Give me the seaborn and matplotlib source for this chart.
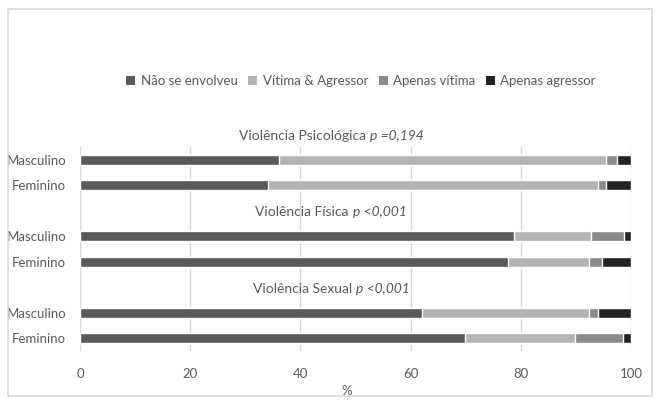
import matplotlib
matplotlib.use("Agg")
import matplotlib.pyplot as plt
import seaborn as sns
import pandas as pd
import numpy as np
from matplotlib.patches import Rectangle, Patch

sns.set_theme(style="white")
plt.rcParams['font.family'] = ['Lato', 'DejaVu Sans']

rows = ["Psic-M", "Psic-F", "gap1", "Fis-M", "Fis-F", "gap2", "Sex-M", "Sex-F"]
row_labels = ["Masculino", "Feminino", "", "Masculino", "Feminino", "", "Masculino", "Feminino"]
bar_rows = ["Psic-M", "Psic-F", "Fis-M", "Fis-F", "Sex-M", "Sex-F"]

series = ["Não se envolveu", "Vítima & Agressor", "Apenas vítima", "Apenas agressor"]
nao_envolveu = [36.1, 34.2, 78.8, 77.6, 62.1, 69.8]
vitima_agressor = [59.3, 59.8, 13.9, 14.7, 30.3, 20.0]
apenas_vitima = [2.0, 1.5, 6.0, 2.4, 1.6, 8.7]
apenas_agressor = [2.6, 4.5, 1.3, 5.3, 6.0, 1.5]
colors = ["#5a5a5a", "#b4b4b4", "#8a8a8a", "#222222"]

titles = [("Violência Psicológica", "p =0,194"),
          ("Violência Física", "p <0,001"),
          ("Violência Sexual", "p <0,001")]
ticks = [0, 20, 40, 60, 80, 100]

vals = np.array([nao_envolveu, vitima_agressor, apenas_vitima, apenas_agressor])
cum = np.cumsum(vals, axis=0)

fig = plt.figure(figsize=(6.58, 4.01), dpi=100)
ax = fig.add_axes([80/658, 1-351/401, 551/658, 204/401])

for i in range(3, -1, -1):
    df = pd.DataFrame({"row": bar_rows, "val": cum[i]})
    sns.barplot(data=df, y="row", x="val", order=rows, color=colors[i],
                orient="h", width=0.4, saturation=1, ax=ax, zorder=3)

ax.set_xlim(0, 100)
ax.set_xticks(ticks)
ax.set_xticklabels([str(t) for t in ticks])
ax.set_yticks(range(len(rows)))
ax.set_yticklabels(row_labels)
ax.set_ylabel("")
ax.set_xlabel("%", color="#595959", fontsize=9.5, labelpad=-2)
ax.xaxis.set_label_coords((347-80)/551, -0.165)
for s in ax.spines.values():
    s.set_visible(False)
ax.grid(axis="x", color="#d9d9d9", linewidth=1, zorder=0)
ax.grid(axis="y", visible=False)
ax.tick_params(axis="both", length=0, labelsize=9.5, labelcolor="#595959")
ax.tick_params(axis="x", pad=12)
ax.tick_params(axis="y", pad=10)

# titles: centred on pixel x ~331
fig.canvas.draw()
renderer = fig.canvas.get_renderer()
center_x = (331-80)/5.51
gap = 4.0 / 5.51
title_y = [-0.95, 2.05, 5.05]
for (normal, ital), yy in zip(titles, title_y):
    t1 = ax.text(0, yy, normal, ha="left", va="center", fontsize=10,
                 color="#595959", clip_on=False, zorder=5)
    t2 = ax.text(0, yy, ital, ha="left", va="center", fontsize=10,
                 color="#595959", style="italic", clip_on=False, zorder=5)
    w1 = t1.get_window_extent(renderer).width / 5.51
    w2 = t2.get_window_extent(renderer).width / 5.51
    start = center_x - (w1 + gap + w2) / 2
    t1.set_x(start)
    t2.set_x(start + w1 + gap)

handles = [Patch(facecolor=c, edgecolor="none") for c in colors]
fig.legend(handles, series, loc="center", bbox_to_anchor=(361/658, 1-81/401),
           ncol=4, frameon=False, fontsize=9.5, handlelength=0.7, handleheight=0.7,
           handletextpad=0.4, columnspacing=0.8, labelcolor="#595959")

fig.patches.append(Rectangle((8/658, 1-396/401), 644/658, 387/401,
                             transform=fig.transFigure, fill=False,
                             edgecolor="#d9d9d9", linewidth=1.2))

fig.savefig("out.png", dpi=100, facecolor="white")
